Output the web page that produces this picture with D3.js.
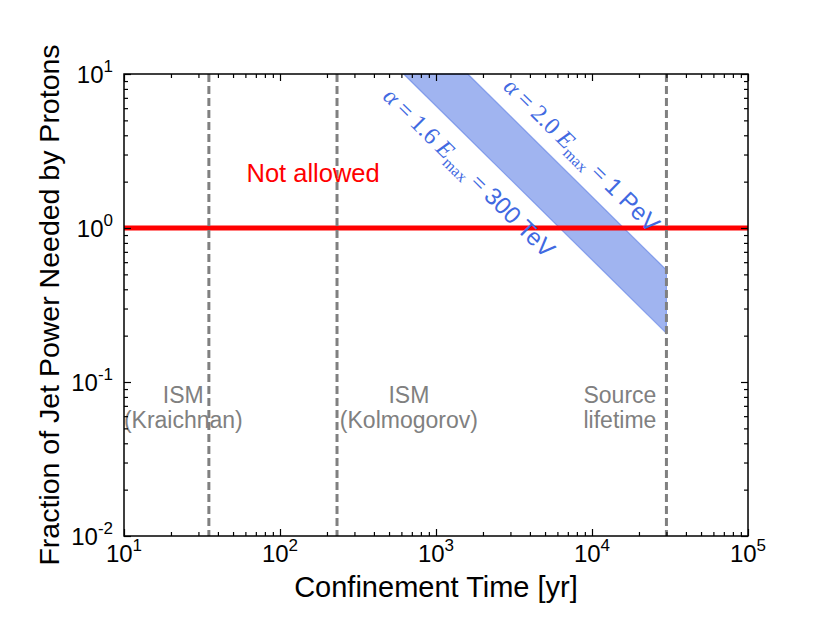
<!DOCTYPE html>
<html>
<head>
<meta charset="utf-8">
<script src="https://cdn.jsdelivr.net/npm/d3@7"></script>
<style>
  body { margin: 0; background: #fff; }
  svg { display: block; }
  text { font-family: "Liberation Sans", Arial, sans-serif; }
</style>
</head>
<body>
<div id="chart"></div>
<script>
// x ticks (yr) and y ticks (fraction)
var xTickValues = [1e1, 1e2, 1e3, 1e4, 1e5];
var xTickExp = ["1", "2", "3", "4", "5"];
var yTickValues = [1e-2, 1e-1, 1e0, 1e1];
var yTickExp = ["-2", "-1", "0", "1"];

// vertical reference times
var markerTimes = [35, 232, 30000];
var markerLines1 = ["ISM", "ISM", "Source"];
var markerLines2 = ["(Kraichnan)", "(Kolmogorov)", "lifetime"];
var markerLabelT = [24, 670, 15100];
var markerLabelF = [0.073, 0.073, 0.073];

// band edges
var upperT = [1600, 30000];
var upperF = [10, 0.533];
var lowerT = [620, 30000];
var lowerF = [10, 0.207];

var limitF = 1;

var svgWidth = 830;
var svgHeight = 623;
var margin = { top: 74, right: 82, bottom: 87, left: 124 };
var chartWidth = svgWidth - margin.left - margin.right;
var chartHeight = svgHeight - margin.top - margin.bottom;

var svg = d3.select("#chart")
  .append("svg")
  .attr("width", svgWidth)
  .attr("height", svgHeight);

var g = svg.append("g")
  .attr("transform", `translate(${margin.left}, ${margin.top})`);

var xScale = d3.scaleLog().domain([1e1, 1e5]).range([0, chartWidth]);
var yScale = d3.scaleLog().domain([1e-2, 1e1]).range([chartHeight, 0]);

function minors(lo, hi) {
  var out = [];
  for (var e = lo; e < hi; e++) {
    for (var k = 2; k <= 9; k++) out.push(k * Math.pow(10, e));
  }
  return out;
}
var xMinor = minors(1, 5);
var yMinor = minors(-2, 1);

// band
var bandPts = upperT.map((t, i) => [t, upperF[i]])
  .concat(lowerT.map((t, i) => [t, lowerF[i]]).reverse());
var bandLine = d3.line().x(d => xScale(d[0])).y(d => yScale(d[1]));

g.append("path")
  .attr("d", bandLine(bandPts) + "Z")
  .attr("fill", "#4169e1")
  .attr("fill-opacity", 0.5)
  .attr("stroke", "#4169e1")
  .attr("stroke-opacity", 0.5)
  .attr("stroke-width", 1.2);

// red limit
g.append("line")
  .attr("x1", 0).attr("x2", chartWidth)
  .attr("y1", yScale(limitF)).attr("y2", yScale(limitF))
  .attr("stroke", "red")
  .attr("stroke-width", 5);

// dashed reference lines
g.selectAll(".vline")
  .data(markerTimes)
  .enter()
  .append("line")
  .attr("class", "vline")
  .attr("x1", d => xScale(d)).attr("x2", d => xScale(d))
  .attr("y1", 0).attr("y2", chartHeight)
  .attr("stroke", "#808080")
  .attr("stroke-width", 3)
  .attr("stroke-dasharray", "8,4");

var mlab = g.selectAll(".mlab")
  .data(markerTimes)
  .enter()
  .append("text")
  .attr("class", "mlab")
  .attr("text-anchor", "middle")
  .attr("font-size", 23)
  .attr("fill", "#808080")
  .attr("x", (d, i) => xScale(markerLabelT[i]))
  .attr("y", (d, i) => yScale(markerLabelF[i]));
mlab.append("tspan").text((d, i) => markerLines1[i]);
mlab.append("tspan")
  .attr("x", (d, i) => xScale(markerLabelT[i]))
  .attr("dy", 25)
  .text((d, i) => markerLines2[i]);

// "Not allowed"
g.append("text")
  .attr("x", xScale(163))
  .attr("y", yScale(2.0))
  .attr("text-anchor", "middle")
  .attr("font-size", 25.5)
  .attr("fill", "red")
  .text("Not allowed");

// band labels, rotated along the band edge
var angle = Math.atan2(yScale(upperF[1]) - yScale(upperF[0]), xScale(upperT[1]) - xScale(upperT[0])) * 180 / Math.PI;
var serif = "Liberation Serif, serif";

function bandLabel(t, f, alpha, tail) {
  var txt = g.append("text")
    .attr("transform", `translate(${xScale(t)}, ${yScale(f)}) rotate(${angle})`)
    .attr("text-anchor", "middle")
    .attr("font-size", 24)
    .attr("fill", "#4169e1");
  txt.append("tspan").attr("font-family", serif).attr("font-style", "italic").text("α");
  txt.append("tspan").attr("font-family", serif).text(" = " + alpha + " ");
  txt.append("tspan").attr("font-family", serif).attr("font-style", "italic").text("E");
  txt.append("tspan").attr("font-family", serif).attr("font-size", 16).attr("dy", 5).text("max");
  txt.append("tspan").attr("font-family", serif).attr("dy", -5).text(" = ");
  txt.append("tspan").text(tail);
}
bandLabel(7900, 2.73, "2.0", "1 PeV");
bandLabel(1500, 2.1, "1.6", "300 TeV");

// frame
g.append("rect")
  .attr("width", chartWidth)
  .attr("height", chartHeight)
  .attr("fill", "none")
  .attr("stroke", "black")
  .attr("stroke-width", 1.5);

// ticks on all sides, pointing inward
function drawTicks(axisFn, scale, values, size, transform) {
  g.append("g")
    .attr("transform", transform)
    .call(axisFn(scale).tickValues(values).tickSize(size).tickFormat(""))
    .call(s => s.select(".domain").remove())
    .call(s => s.selectAll("line").attr("stroke-width", 1.2));
}
drawTicks(d3.axisBottom, xScale, xTickValues, -7, `translate(0, ${chartHeight})`);
drawTicks(d3.axisBottom, xScale, xMinor, -4, `translate(0, ${chartHeight})`);
drawTicks(d3.axisTop, xScale, xTickValues, -7, "translate(0, 0)");
drawTicks(d3.axisTop, xScale, xMinor, -4, "translate(0, 0)");
drawTicks(d3.axisLeft, yScale, yTickValues, -7, "translate(0, 0)");
drawTicks(d3.axisLeft, yScale, yMinor, -4, "translate(0, 0)");
drawTicks(d3.axisRight, yScale, yTickValues, -7, `translate(${chartWidth}, 0)`);
drawTicks(d3.axisRight, yScale, yMinor, -4, `translate(${chartWidth}, 0)`);

// tick labels
var xl = g.selectAll(".xl")
  .data(xTickValues)
  .enter()
  .append("text")
  .attr("class", "xl")
  .attr("x", d => xScale(d))
  .attr("y", chartHeight + 26)
  .attr("text-anchor", "middle")
  .attr("font-size", 24);
xl.append("tspan").text("10");
xl.append("tspan").attr("font-size", 17).attr("dy", -11).text((d, i) => xTickExp[i]);

var yl = g.selectAll(".yl")
  .data(yTickValues)
  .enter()
  .append("text")
  .attr("class", "yl")
  .attr("x", -11)
  .attr("y", d => yScale(d) + 8.5)
  .attr("text-anchor", "end")
  .attr("font-size", 24);
yl.append("tspan").text("10");
yl.append("tspan").attr("font-size", 17).attr("dy", -11).text((d, i) => yTickExp[i]);

// axis titles
g.append("text")
  .attr("x", chartWidth / 2)
  .attr("y", chartHeight + 61)
  .attr("text-anchor", "middle")
  .attr("font-size", 29)
  .text("Confinement Time [yr]");

g.append("text")
  .attr("transform", `translate(-65, ${chartHeight / 2}) rotate(-90)`)
  .attr("text-anchor", "middle")
  .attr("font-size", 28.5)
  .text("Fraction of Jet Power Needed by Protons");
</script>
</body>
</html>
